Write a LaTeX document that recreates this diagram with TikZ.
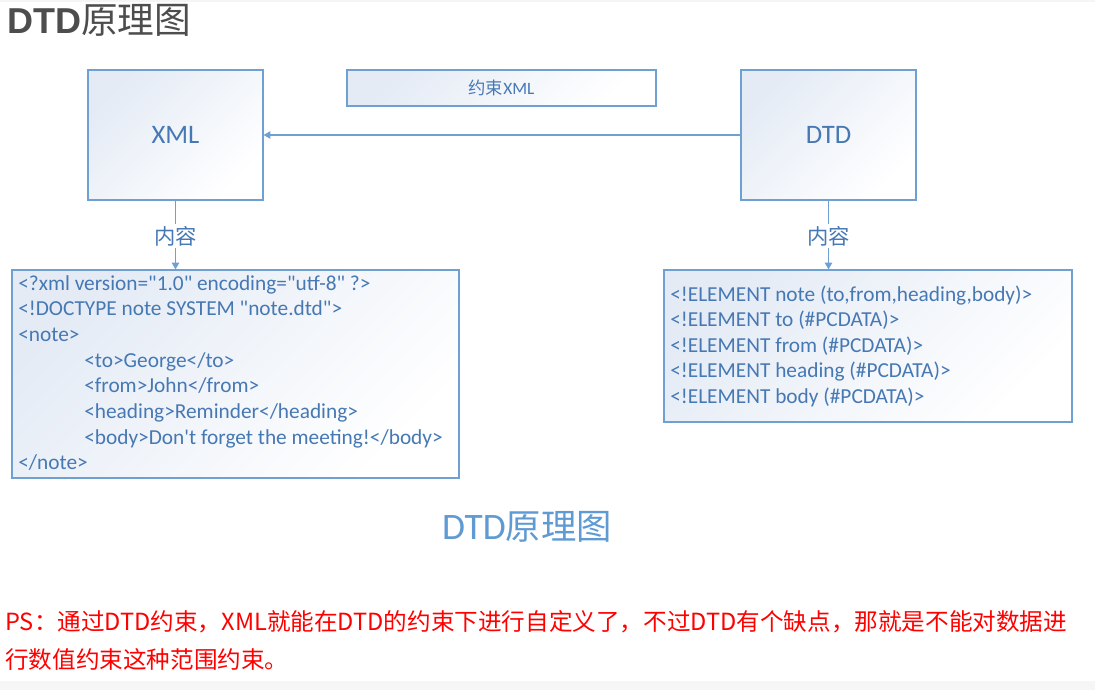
\documentclass[tikz,border=0pt]{standalone}
\usepackage{fontspec}
\setmainfont{Carlito}
\newfontfamily\cjk{Noto Sans CJK SC}
\newfontfamily\arialf{Liberation Sans}
\usetikzlibrary{arrows.meta}
\definecolor{lineblue}{RGB}{110,160,210}
\definecolor{txtblue}{RGB}{70,120,180}
\definecolor{capblue}{RGB}{95,155,210}
\definecolor{boxfill}{RGB}{228,235,245}
\definecolor{titlegray}{RGB}{77,77,77}
\newcommand{\dq}{\textquotedbl}
\newcommand{\sq}{\textquotesingle}
\tikzset{
  box/.style={draw=lineblue, line width=0.9pt, inner sep=0pt, top color=boxfill, bottom color=white, shading angle=45, text=txtblue},
  conn/.style={draw=lineblue, line width=0.8pt},
  tip/.style={-{Triangle[length=5pt,width=5.5pt]}},
  code/.style={anchor=base west, inner sep=0pt, text=txtblue, font=\fontsize{16}{18}\selectfont},
  lbl/.style={inner sep=1pt, text=txtblue, font=\cjk\fontsize{16}{17}\selectfont},
  ps/.style={anchor=base west, inner sep=0pt, text=red, font=\cjk\fontsize{17.7}{19}\selectfont}
}
\begin{document}
\begin{tikzpicture}[x=0.75pt,y=-0.75pt]
\useasboundingbox (0,0) rectangle (1095,690);
\fill[white] (0,0) rectangle (1095,690);
\fill[gray!8] (0,0) rectangle (1095,2);
\fill[gray!7] (0,681) rectangle (1095,690);
% title
\node[anchor=base west, inner sep=0pt, text=titlegray] (title) at (7,33)
  {{\arialf\bfseries\fontsize{27}{30}\selectfont DTD}{\cjk\fontsize{27.5}{30}\selectfont 原理图}};
% main boxes
\node[box, minimum width=131.25pt, minimum height=97.5pt, font=\fontsize{20}{22}\selectfont] (xml) at (175.5,135) {XML};
\node[box, minimum width=131.25pt, minimum height=97.5pt, font=\fontsize{20}{22}\selectfont] (dtd) at (828.5,135) {DTD};
\node[box, minimum width=231.75pt, minimum height=27pt, font=\fontsize{13}{14}\selectfont] (cons) at (501.5,88) {{\cjk 约束}XML};
\draw[conn, tip] (dtd.west) -- (xml.east);
% content boxes
\node[box, minimum width=335.25pt, minimum height=156pt] (lbox) at (235.5,374) {};
\node[box, minimum width=306pt, minimum height=114pt] (rbox) at (868,346) {};
% connectors with labels
\node[lbl] (c1) at (175.5,236) {内容};
\node[lbl] (c2) at (828.5,236) {内容};
\draw[conn] (xml.south) -- (c1.north);
\draw[conn, tip] (c1.south) -- (c1.south |- lbox.north);
\draw[conn] (dtd.south) -- (c2.north);
\draw[conn, tip] (c2.south) -- (c2.south |- rbox.north);
% left box text
\node[code] (l1) at (18,290) {<?xml version=\dq1.0\dq{} encoding=\dq utf-8\dq{} ?>};
\node[code] (l2) at (18,315.7) {<!DOCTYPE note SYSTEM \dq note.dtd\dq>};
\node[code] (l3) at (18,341.4) {<note>};
\node[code] (l4) at (84,367.1) {<to>George</to>};
\node[code] (l5) at (84,392.8) {<from>John</from>};
\node[code] (l6) at (84,418.5) {<heading>Reminder</heading>};
\node[code] (l7) at (84,444.2) {<body>Don\sq t forget the meeting!</body>};
\node[code] (l8) at (18,469.9) {</note>};
% right box text
\node[code] (r1) at (670,301) {<!ELEMENT note (to,from,heading,body)>};
\node[code] (r2) at (670,326.6) {<!ELEMENT to (\#PCDATA)>};
\node[code] (r3) at (670,352.2) {<!ELEMENT from (\#PCDATA)>};
\node[code] (r4) at (670,377.8) {<!ELEMENT heading (\#PCDATA)>};
\node[code] (r5) at (670,403.4) {<!ELEMENT body (\#PCDATA)>};
% caption
\node[anchor=base, inner sep=0pt, text=capblue] (cap) at (527,539)
  {{\fontsize{28}{30}\selectfont DTD}{\cjk\fontsize{26.5}{30}\selectfont 原理图}};
% PS note
\node[ps] (ps1) at (5,630) {PS：通过DTD约束，XML就能在DTD的约束下进行自定义了，不过DTD有个缺点，那就是不能对数据进};
\node[ps] (ps2) at (5,668) {行数值约束这种范围约束。};
\end{tikzpicture}
\end{document}
